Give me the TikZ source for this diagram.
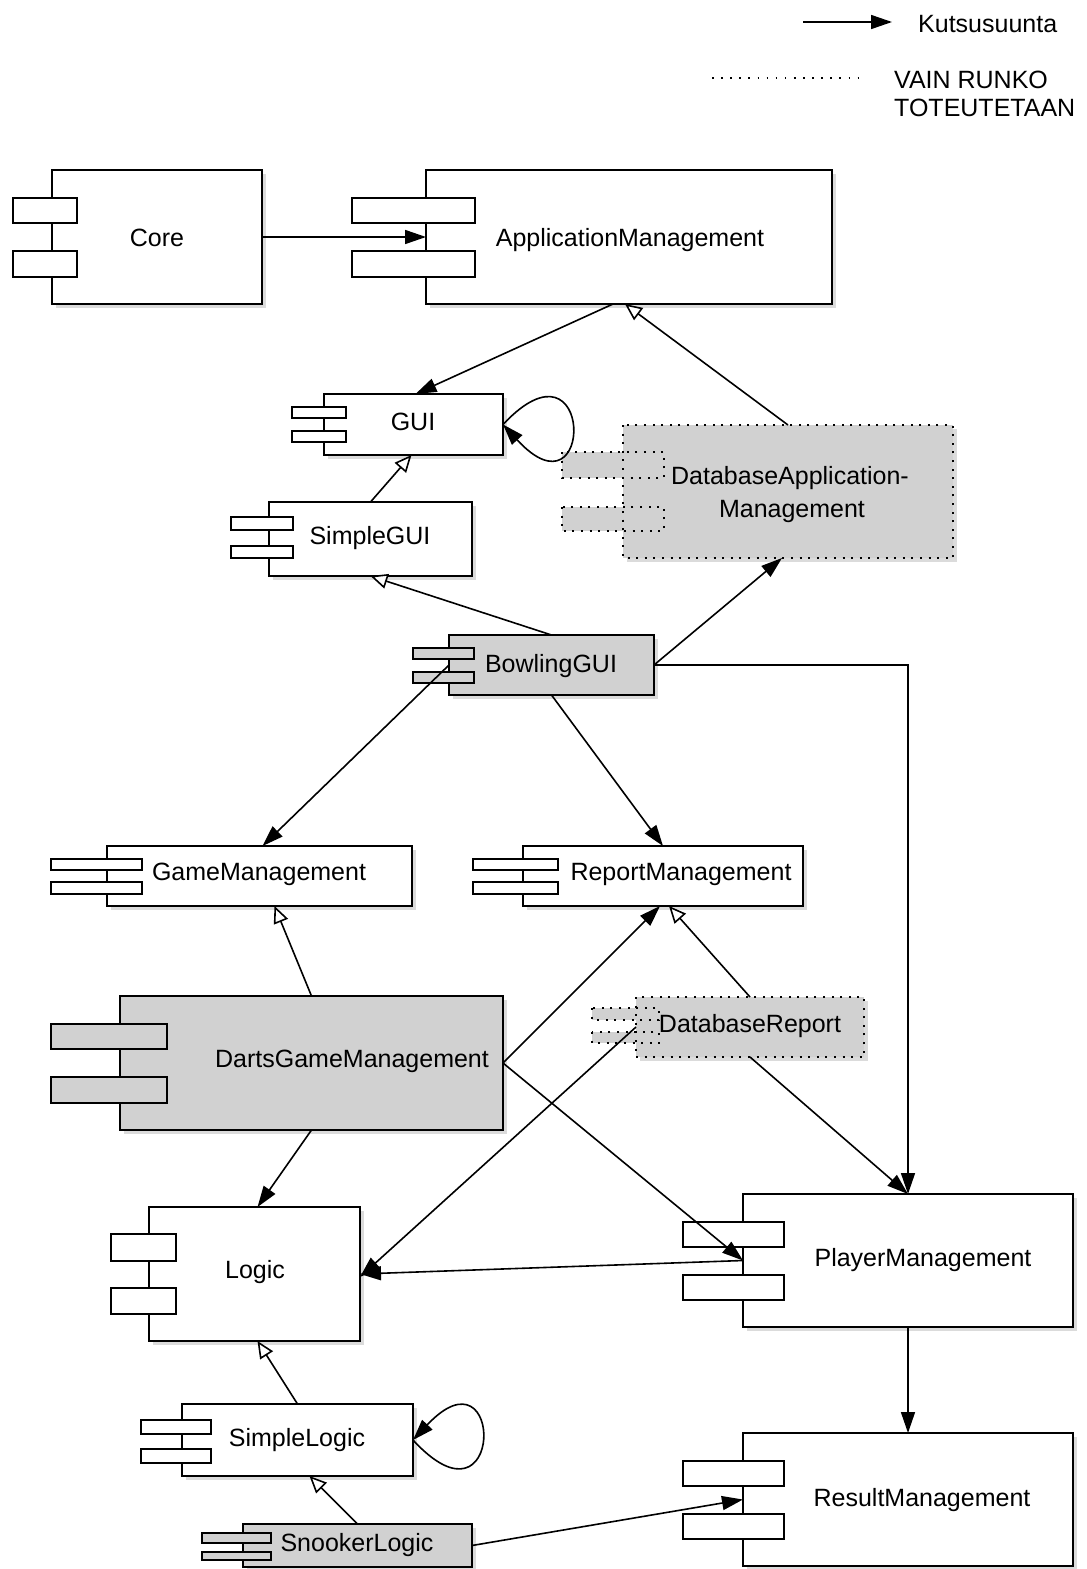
\documentclass[tikz,border=0pt]{standalone}
\usepackage{fontspec}
\setmainfont{Liberation Sans}
\usetikzlibrary{arrows.meta,shadows}

% two interface tabs on the left side of a component
\newcommand\comptabs[7]{%
  \draw[#7] (#1,#3) rectangle (#2,#4);
  \draw[#7] (#1,#5) rectangle (#2,#6);}

\begin{document}
\begin{tikzpicture}[x=1pt,y=-1pt,
  comp/.style={rectangle, draw, line width=1.7pt, fill=white, inner sep=0pt, outer sep=0pt,
    drop shadow={shadow xshift=3.5pt, shadow yshift=-3.5pt, opacity=0.28}},
  stub/.style={comp, fill=black!18},
  dotline/.style={line width=2pt, dash pattern=on 2pt off 6.6pt},
  stubdot/.style={comp, fill=black!18, draw=none},
  tab/.style={draw, line width=1.7pt, fill=white},
  tabgray/.style={draw, line width=1.7pt, fill=black!18},
  tabdot/.style={fill=black!18, dotline},
  lbl/.style={font=\fontsize{25}{30}\selectfont, inner sep=0pt, text height=18pt, text depth=0pt, anchor=center},
  call/.style={line width=1.6pt, -{Triangle[length=21pt,width=14pt]}},
  gen/.style={line width=1.6pt, -{Triangle[open,length=17pt,width=15pt,fill=white]}}]

\useasboundingbox (0,0) rectangle (1087,1569);
\fill[white] (0,0) rectangle (1087,1569);

% ---------- legend ----------
\coordinate (lgA) at (803,22);
\coordinate (lgB) at (892,22);
\draw[call] (lgA) -- (lgB);
\node[lbl, anchor=west] (lgCall) at (918,23) {Kutsusuunta};
\coordinate (lgC) at (712,78);
\coordinate (lgD) at (863,78);
\draw[dotline, line width=1.6pt, dash pattern=on 1.6pt off 7.5pt] (lgC) -- (lgD);
\node[lbl, anchor=west] (lgStub1) at (894,79) {VAIN RUNKO};
\node[lbl, anchor=west] (lgStub2) at (894,107) {TOTEUTETAAN};

% ---------- components ----------
\node[comp, minimum width=210, minimum height=134] (core) at (157,237) {};
\comptabs{13}{77}{198}{223}{251}{277}{tab}
\node[lbl] (core-t) at (157,237) {Core};

\node[comp, minimum width=406, minimum height=134] (appm) at (629,237) {};
\comptabs{352}{475}{198}{223}{251}{277}{tab}
\node[lbl] (appm-t) at (630,237) {ApplicationManagement};

\node[comp, minimum width=179, minimum height=61] (gui) at (413.5,424.5) {};
\comptabs{292}{346}{407}{418}{431}{442}{tab}
\node[lbl] (gui-t) at (413,421) {GUI};

\node[comp, minimum width=203, minimum height=74] (sgui) at (370.5,539) {};
\comptabs{231}{293}{517}{530}{546}{558}{tab}
\node[lbl] (sgui-t) at (370,535) {SimpleGUI};

\node[stubdot, minimum width=330, minimum height=133] (dam) at (788,491.5) {};
\comptabs{562}{664}{452}{478}{507}{531}{tabdot}
\draw[dotline] (dam.north west) rectangle (dam.south east);
\node[lbl] (dam-t1) at (790,475) {DatabaseApplication-};
\node[lbl] (dam-t2) at (792,508) {Management};

\node[stub, minimum width=205, minimum height=60] (bgui) at (551.5,665) {};
\comptabs{413}{474}{648}{659}{672}{683}{tabgray}
\node[lbl] (bgui-t) at (551,663) {BowlingGUI};

\node[comp, minimum width=305, minimum height=60] (gm) at (259.5,876) {};
\comptabs{51}{142}{859}{870}{882}{894}{tab}
\node[lbl] (gm-t) at (259,871) {GameManagement};

\node[comp, minimum width=280, minimum height=60] (rm) at (663,876) {};
\comptabs{473}{558}{859}{870}{882}{894}{tab}
\node[lbl] (rm-t) at (681,871) {ReportManagement};

\node[stub, minimum width=383, minimum height=134] (dgm) at (311.5,1063) {};
\comptabs{51}{167}{1024}{1049}{1077}{1103}{tabgray}
\node[lbl] (dgm-t) at (352,1058) {DartsGameManagement};

\node[stubdot, minimum width=228, minimum height=60] (dbr) at (750,1027) {};
\comptabs{592}{659}{1008}{1020}{1032}{1043}{tabdot}
\draw[dotline] (dbr.north west) rectangle (dbr.south east);
\node[lbl] (dbr-t) at (750,1023) {DatabaseReport};

\node[comp, minimum width=211, minimum height=134] (logic) at (254.5,1274) {};
\comptabs{111}{176}{1234}{1261}{1288}{1314}{tab}
\node[lbl] (logic-t) at (255,1269) {Logic};

\node[comp, minimum width=330, minimum height=133] (pm) at (908,1260.5) {};
\comptabs{683}{784}{1222}{1247}{1275}{1300}{tab}
\node[lbl] (pm-t) at (923,1257) {PlayerManagement};

\node[comp, minimum width=231, minimum height=72] (sl) at (297.5,1440) {};
\comptabs{141}{211}{1420}{1434}{1449}{1463}{tab}
\node[lbl] (sl-t) at (297,1437) {SimpleLogic};

\node[comp, minimum width=330, minimum height=133] (rsm) at (908,1499.5) {};
\comptabs{683}{784}{1461}{1486}{1514}{1539}{tab}
\node[lbl] (rsm-t) at (922,1497) {ResultManagement};

\node[stub, minimum width=229, minimum height=43] (snk) at (357.5,1545.5) {};
\comptabs{202}{271}{1533}{1543}{1552}{1560}{tabgray}
\node[lbl] (snk-t) at (357,1542) {SnookerLogic};

% ---------- calls ----------
\draw[call] (core.east) -- (appm.west);
\draw[call] ([xshift=-16pt]appm.south) -- ([xshift=2pt]gui.north);
\draw[call] (gui.east) .. controls +(92,-98) and +(92,100) .. (gui.east);
\draw[call] (bgui.east) -- ([xshift=-6pt]dam.south);
\draw[call] (bgui.east) -| (pm.north);
\draw[call] (bgui.west) -- ([xshift=3pt]gm.north);
\draw[call] (bgui.south) -- (rm.north);
\draw[call] (dgm.east) -- ([xshift=-3pt]rm.south);
\draw[call] (dgm.east) -- (pm.west);
\draw[call] (dgm.south) -- ([xshift=3pt]logic.north);
\draw[call] (dbr.west) -- ([yshift=-3pt]logic.east);
\draw[call] (dbr.south) -- (pm.north);
\draw[call] (pm.west) -- (logic.east);
\draw[call] (pm.south) -- (rsm.north);
\draw[call] (sl.east) .. controls +(92,100) and +(92,-98) .. (sl.east);
\draw[call] (snk.east) -- (rsm.west);

% ---------- specialisations ----------
\draw[gen] (dam.north) -- ([xshift=-4pt]appm.south);
\draw[gen] (sgui.north) -- ([xshift=-2pt]gui.south);
\draw[gen] (bgui.north) -- (sgui.south);
\draw[gen] (dgm.north) -- ([xshift=15pt]gm.south);
\draw[gen] (dbr.north) -- ([xshift=6pt]rm.south);
\draw[gen] (sl.north) -- ([xshift=3pt]logic.south);
\draw[gen] (snk.north) -- ([xshift=12pt]sl.south);
\end{tikzpicture}
\end{document}
